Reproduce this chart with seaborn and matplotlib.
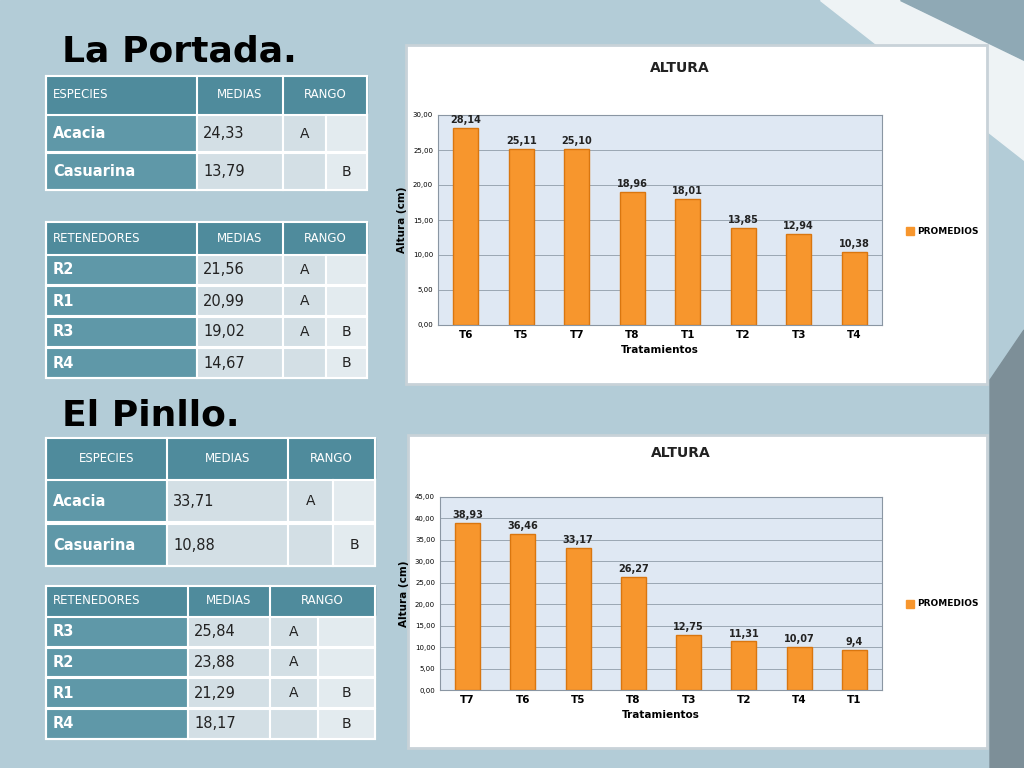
import matplotlib
matplotlib.use("Agg")
import matplotlib.pyplot as plt
from matplotlib.patches import Rectangle, Polygon
import seaborn as sns
import pandas as pd
import numpy as np

# ---- data ----
portada_trat = ["T6", "T5", "T7", "T8", "T1", "T2", "T3", "T4"]
portada_vals = [28.14, 25.11, 25.10, 18.96, 18.01, 13.85, 12.94, 10.38]
pinllo_trat = ["T7", "T6", "T5", "T8", "T3", "T2", "T4", "T1"]
pinllo_vals = [38.93, 36.46, 33.17, 26.27, 12.75, 11.31, 10.07, 9.4]
pinllo_labels = ["38,93", "36,46", "33,17", "26,27", "12,75", "11,31", "10,07", "9,4"]

port_esp = [["Acacia", "24,33", "A", ""], ["Casuarina", "13,79", "", "B"]]
port_ret = [["R2", "21,56", "A", ""], ["R1", "20,99", "A", ""], ["R3", "19,02", "A", "B"], ["R4", "14,67", "", "B"]]
pin_esp = [["Acacia", "33,71", "A", ""], ["Casuarina", "10,88", "", "B"]]
pin_ret = [["R3", "25,84", "A", ""], ["R2", "23,88", "A", ""], ["R1", "21,29", "A", "B"], ["R4", "18,17", "", "B"]]

W, H = 1024, 768
fig = plt.figure(figsize=(W/100, H/100), dpi=100)
bg = fig.add_axes([0, 0, 1, 1]); bg.set_xlim(0, W); bg.set_ylim(H, 0); bg.axis("off")
bg.add_patch(Rectangle((0, 0), W, H, color="#b3ccd7"))
bg.add_patch(Polygon([(820, 0), (1024, 0), (1024, 160)], color="#eef3f5"))
bg.add_patch(Polygon([(900, 0), (1024, 0), (1024, 60)], color="#8fa9b5"))
bg.add_patch(Polygon([(990, 380), (1024, 330), (1024, 768), (990, 768)], color="#7d8f98"))

bg.text(62, 52, "La Portada.", fontsize=26, fontweight="bold", color="black", va="center")
bg.text(62, 415, "El Pinllo.", fontsize=26, fontweight="bold", color="black", va="center")

HEAD = "#4f8b9c"; FIRST = "#5f98a8"; CELL = "#d3dfe5"; CELL2 = "#e3ebef"

def table(cols, header, hy, rows, ry, fs, center_first=False):
    bg.add_patch(Rectangle((cols[0], hy[0]), cols[-1]-cols[0], hy[1]-hy[0], color=HEAD))
    for i, h in enumerate(header):
        x0 = cols[i]; x1 = cols[i+1] if i < 2 else cols[4]
        bg.plot([x0, x0], hy, color="white", lw=1.5)
        if i == 0 and not center_first:
            bg.text(x0+7, sum(hy)/2, h, color="white", fontsize=8.5, ha="left", va="center")
        else:
            bg.text((x0+x1)/2, sum(hy)/2, h, color="white", fontsize=8.5, ha="center", va="center")
    for r, (y0, y1) in zip(rows, ry):
        for j in range(4):
            col = FIRST if j == 0 else (CELL2 if j == 3 else CELL)
            bg.add_patch(Rectangle((cols[j], y0), cols[j+1]-cols[j], y1-y0, color=col, ec="white", lw=1.5))
            if j == 0:
                bg.text(cols[0]+7, (y0+y1)/2, r[0], color="white", fontsize=fs, fontweight="semibold", va="center")
            elif j == 1:
                bg.text(cols[1]+6, (y0+y1)/2, r[1], color="#222222", fontsize=fs, va="center")
            else:
                bg.text((cols[j]+cols[j+1])/2, (y0+y1)/2, r[j], color="#222222", fontsize=fs-0.5, ha="center", va="center")
    bg.add_patch(Rectangle((cols[0], hy[0]), cols[-1]-cols[0], ry[-1][1]-hy[0], fill=False, ec="white", lw=1.5))

table([46, 197, 283, 326, 367], ["ESPECIES", "MEDIAS", "RANGO"], (76, 113), port_esp, [(115, 152), (153, 190)], 10.5)
table([46, 197, 283, 326, 367], ["RETENEDORES", "MEDIAS", "RANGO"], (222, 254), port_ret,
      [(255, 285), (286, 316), (317, 347), (348, 378)], 10.5)
table([46, 167, 288, 333, 375], ["ESPECIES", "MEDIAS", "RANGO"], (438, 478), pin_esp, [(480, 522), (524, 566)], 10.5, True)
table([46, 188, 270, 318, 375], ["RETENEDORES", "MEDIAS", "RANGO"], (586, 615), pin_ret,
      [(617, 647), (648, 677), (678, 708), (709, 739)], 10.5)

def chart(frame, plot, cats, vals, labels, ymax, step, ty, ly):
    fx0, fy0, fx1, fy1 = frame
    bg.add_patch(Rectangle((fx0, fy0), fx1-fx0, fy1-fy0, color="white", ec="#c8d2d8", lw=2))
    px0, py0, px1, py1 = plot
    ax = fig.add_axes([px0/W, 1-py1/H, (px1-px0)/W, (py1-py0)/H])
    ax.set_facecolor("#dfe8f3")
    df = pd.DataFrame({"t": cats, "v": vals})
    sns.barplot(data=df, x="t", y="v", ax=ax, color="#f7962d", edgecolor="#d9760f", width=0.45, saturation=1)
    ax.set_ylim(0, ymax)
    ticks = np.arange(0, ymax+0.01, step)
    ax.set_yticks(ticks)
    ax.set_yticklabels([f"{t:.2f}".replace(".", ",") for t in ticks], fontsize=5)
    ax.grid(axis="y", color="#9aa6b3", lw=0.7)
    ax.set_axisbelow(True)
    ax.tick_params(axis="x", labelsize=7.5, length=0)
    for l in ax.get_xticklabels(): l.set_fontweight("bold")
    ax.tick_params(axis="y", length=0)
    for s in ax.spines.values(): s.set_color("#8a96a3"); s.set_linewidth(0.8)
    for i, (v, lb) in enumerate(zip(vals, labels)):
        ax.text(i, v + ymax*0.015, lb, ha="center", va="bottom", fontsize=7, fontweight="bold", color="#222222")
    ax.set_xlabel("Tratamientos", fontsize=7.5, fontweight="bold")
    ax.set_ylabel("Altura (cm)", fontsize=7.5, fontweight="bold")
    bg.text((px0+px1)/2 + 20, ty, "ALTURA", fontsize=10, fontweight="bold", ha="center", va="center", color="#222")
    bg.add_patch(Rectangle((906, ly-4), 8, 8, color="#f7962d"))
    bg.text(917, ly, "PROMEDIOS", fontsize=6.5, fontweight="bold", va="center")

chart((406, 45, 987, 384), (438, 115, 882, 325), portada_trat, portada_vals,
      [f"{v:.2f}".replace(".", ",") for v in portada_vals], 30, 5, 68, 231)
chart((408, 435, 987, 748), (440, 497, 882, 690), pinllo_trat, pinllo_vals, pinllo_labels, 45, 5, 453, 604)

fig.savefig("out.png", dpi=100)
